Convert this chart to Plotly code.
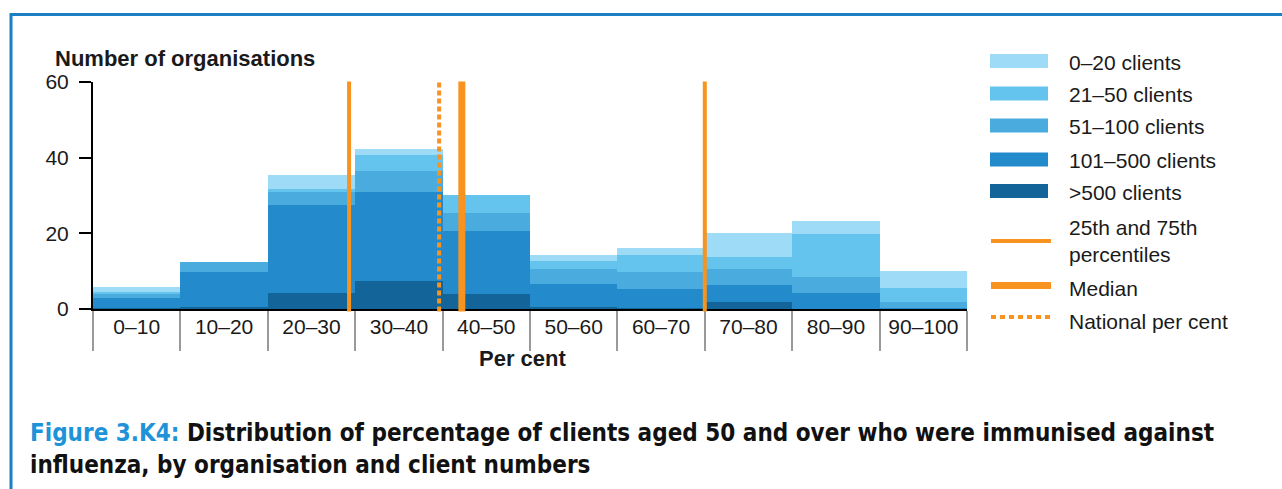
import plotly.graph_objects as go

# ---------------- data ----------------
bins = ["0–10", "10–20", "20–30", "30–40", "40–50", "50–60", "60–70", "70–80", "80–90", "90–100"]
bin_centres = [5, 15, 25, 35, 45, 55, 65, 75, 85, 95]
bin_edges = [0, 10, 20, 30, 40, 50, 60, 70, 80, 90, 100]

over_500 = [0.3, 0.4, 4.3, 7.5, 3.9, 0.5, 0.3, 1.8, 0.0, 0.0]
c101_500 = [2.5, 9.3, 23.3, 23.3, 16.7, 6.0, 5.0, 4.5, 4.3, 0.3]
c51_100 = [1.1, 2.6, 3.2, 5.7, 4.8, 4.2, 4.4, 4.4, 4.2, 1.5]
c21_50 = [0.7, 0.0, 1.0, 4.1, 4.8, 2.0, 4.7, 3.1, 11.2, 3.7]
c0_20 = [1.3, 0.0, 3.7, 1.8, 0.0, 1.7, 1.6, 6.4, 3.6, 4.6]

series_names = ["0–20 clients", "21–50 clients", "51–100 clients", "101–500 clients", ">500 clients"]
series_values = [c0_20, c21_50, c51_100, c101_500, over_500]
series_colors = ["#9DDBF6", "#64C4EE", "#4AABDF", "#238ACB", "#126499"]

percentile_25 = 29.3
percentile_75 = 70.0
median = 42.2
national = 39.6

y_ticks = [0, 20, 40, 60]

# --------------- layout helpers ---------------
W, H = 1282, 489
PL, PR, PT, PB = 93, 967, 82, 309  # plot area in pixels


def px(x):
    return (x - PL) / (PR - PL)


def py(y):
    return (PB - y) / (PB - PT)


ORANGE = "#F7931E"
FONT = "Liberation Sans, Arial, sans-serif"
CAP_FONT = "DejaVu Sans Condensed, Liberation Sans Narrow, sans-serif"

fig = go.Figure()

# stacked bars: bottom layer first
for name, vals, col in reversed(list(zip(series_names, series_values, series_colors))):
    fig.add_trace(go.Bar(
        x=bin_centres, y=vals, width=10, name=name,
        marker=dict(color=col, line=dict(width=0)),
        showlegend=False, hoverinfo="name+y",
    ))

shapes = []
# vertical reference lines
for xv, w, dash in [(percentile_25, 4, "solid"), (percentile_75, 4, "solid"),
                    (median, 7, "solid"), (national, 4, "5px,3px")]:
    shapes.append(dict(type="line", xref="x", yref="paper", x0=xv, x1=xv,
                       y0=py(311.5), y1=py(81.5),
                       line=dict(color=ORANGE, width=w, dash=dash)))

# outer blue frame
shapes.append(dict(type="rect", xref="paper", yref="paper",
                   x0=px(11), x1=px(1300), y0=py(14.5), y1=py(520),
                   line=dict(color="#1B7FC3", width=3), fillcolor="rgba(0,0,0,0)"))

annotations = []
# legend swatches + labels
leg_y = [61, 93.5, 125.5, 159.5, 191]
for name, col, yy in zip(series_names, series_colors, leg_y):
    shapes.append(dict(type="rect", xref="paper", yref="paper",
                       x0=px(990), x1=px(1048), y0=py(yy - 7), y1=py(yy + 7),
                       fillcolor=col, line=dict(width=0)))
    annotations.append(dict(xref="paper", yref="paper", x=px(1067), y=py(yy + 1),
                            xanchor="left", yanchor="middle", showarrow=False,
                            text=name, font=dict(family=FONT, size=21, color="#1a1a1a")))

line_leg = [("25th and 75th<br>percentiles", 241, 4, "solid", 241),
            ("Median", 285.5, 7, "solid", 288),
            ("National per cent", 317, 4, "5px,4px", 321)]
for text, yy, w, dash, ty in line_leg:
    shapes.append(dict(type="line", xref="paper", yref="paper",
                       x0=px(991), x1=px(1051), y0=py(yy), y1=py(yy),
                       line=dict(color=ORANGE, width=w, dash=dash)))
    annotations.append(dict(xref="paper", yref="paper", x=px(1067), y=py(ty),
                            xanchor="left", yanchor="middle", showarrow=False, align="left",
                            text=text, font=dict(family=FONT, size=21, color="#1a1a1a")))

# axis titles
annotations.append(dict(xref="paper", yref="paper", x=px(53), y=py(58),
                        xanchor="left", yanchor="middle", showarrow=False,
                        text="<b>Number of organisations</b>",
                        font=dict(family=FONT, size=22, color="#1a1a1a")))
annotations.append(dict(xref="paper", yref="paper", x=px(522), y=py(358),
                        xanchor="center", yanchor="middle", showarrow=False,
                        text="<b>Per cent</b>",
                        font=dict(family=FONT, size=22, color="#1a1a1a")))

# caption
annotations.append(dict(xref="paper", yref="paper", x=px(28), y=py(433),
                        xanchor="left", yanchor="middle", showarrow=False,
                        text='<b><span style="color:#1F93D8">Figure 3.K4:</span> Distribution of percentage of clients aged 50 and over who were immunised against</b>',
                        font=dict(family=CAP_FONT, size=24, color="#111111")))
annotations.append(dict(xref="paper", yref="paper", x=px(28), y=py(465),
                        xanchor="left", yanchor="middle", showarrow=False,
                        text="<b>influenza, by organisation and client numbers</b>",
                        font=dict(family=CAP_FONT, size=24, color="#111111")))

fig.update_layout(
    width=W, height=H,
    margin=dict(l=PL, r=W - PR, t=PT, b=H - PB, pad=0),
    paper_bgcolor="white", plot_bgcolor="white",
    barmode="stack", bargap=0,
    shapes=shapes, annotations=annotations,
    showlegend=False,
    font=dict(family=FONT, size=20, color="#1a1a1a"),
    xaxis=dict(range=[0, 100], tickvals=bin_centres, ticktext=bins, ticks="",
               showline=True, linecolor="black", linewidth=2, showgrid=False, zeroline=False,
               ticklabelstandoff=-2, tickfont=dict(family=FONT, size=21, color="#1a1a1a"),
               minor=dict(tickvals=bin_edges, ticks="outside", ticklen=40,
                          tickcolor="#9a9a9a", tickwidth=2, showgrid=False),
               fixedrange=True),
    yaxis=dict(range=[0, 60], tickvals=y_ticks, ticks="outside", ticklen=12, tickwidth=2,
               tickcolor="black", showline=True, linecolor="black", linewidth=2,
               showgrid=False, zeroline=False, ticklabelstandoff=6,
               tickfont=dict(family=FONT, size=21, color="#1a1a1a"), fixedrange=True),
)

fig.write_html("out.html", config={"displayModeBar": False},
               post_script="document.body.style.margin='0';document.body.style.overflow='hidden';")
